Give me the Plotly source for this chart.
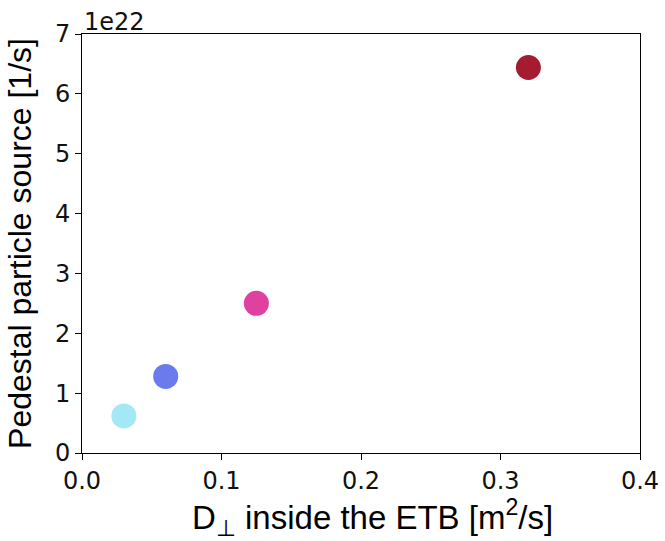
import plotly.graph_objects as go

# Perpendicular diffusivity inside the ETB [m^2/s] vs pedestal particle source [1/s]
d_perp = [0.03, 0.06, 0.125, 0.32]
source = [0.62e22, 1.28e22, 2.50e22, 6.44e22]
colors = ["#a4e8f6", "#6b7bee", "#e0409f", "#a51c30"]

fig = go.Figure()
fig.add_trace(go.Scatter(
    x=d_perp, y=[s / 1e22 for s in source], mode="markers",
    marker=dict(size=25, color=colors, line=dict(width=0)),
    showlegend=False,
))

tick_font = dict(family="DejaVu Sans", size=24, color="#111")
title_font_x = dict(family="Liberation Sans", size=33, color="#000")
title_font_y = dict(family="Liberation Sans", size=32, color="#000")

fig.update_xaxes(
    range=[0, 0.4], tickvals=[0, 0.1, 0.2, 0.3, 0.4],
    ticktext=["0.0", "0.1", "0.2", "0.3", "0.4"],
    ticks="outside", ticklen=6, tickcolor="#000", tickfont=tick_font,
    showline=True, linecolor="#000", linewidth=1, mirror=True,
    showgrid=False, zeroline=False, automargin=False,
)
fig.update_yaxes(
    range=[0, 7], tickvals=list(range(8)),
    ticks="outside", ticklen=6, tickcolor="#000", tickfont=tick_font,
    showline=True, linecolor="#000", linewidth=1, mirror=True,
    showgrid=False, zeroline=False, automargin=False,
    title=dict(text="Pedestal particle source [1/s]", font=title_font_y, standoff=13),
)
# x-axis title, placed as an annotation below the tick labels
fig.add_annotation(
    x=0.52, y=0, xref="paper", yref="paper", xanchor="center", yanchor="middle",
    text="D<sub>⊥</sub> inside the ETB [m<sup>2</sup>/s]", showarrow=False,
    font=title_font_x, yshift=-64,
)
fig.add_annotation(
    x=0, y=1, xref="paper", yref="paper", xanchor="left", yanchor="bottom",
    text="1e22", showarrow=False, font=dict(family="DejaVu Sans", size=24, color="#111"),
    yshift=-4,
)
fig.update_layout(
    width=665, height=541, paper_bgcolor="white", plot_bgcolor="white",
    margin=dict(l=82, r=25, t=34, b=88),
)
fig.write_html("out.html")
